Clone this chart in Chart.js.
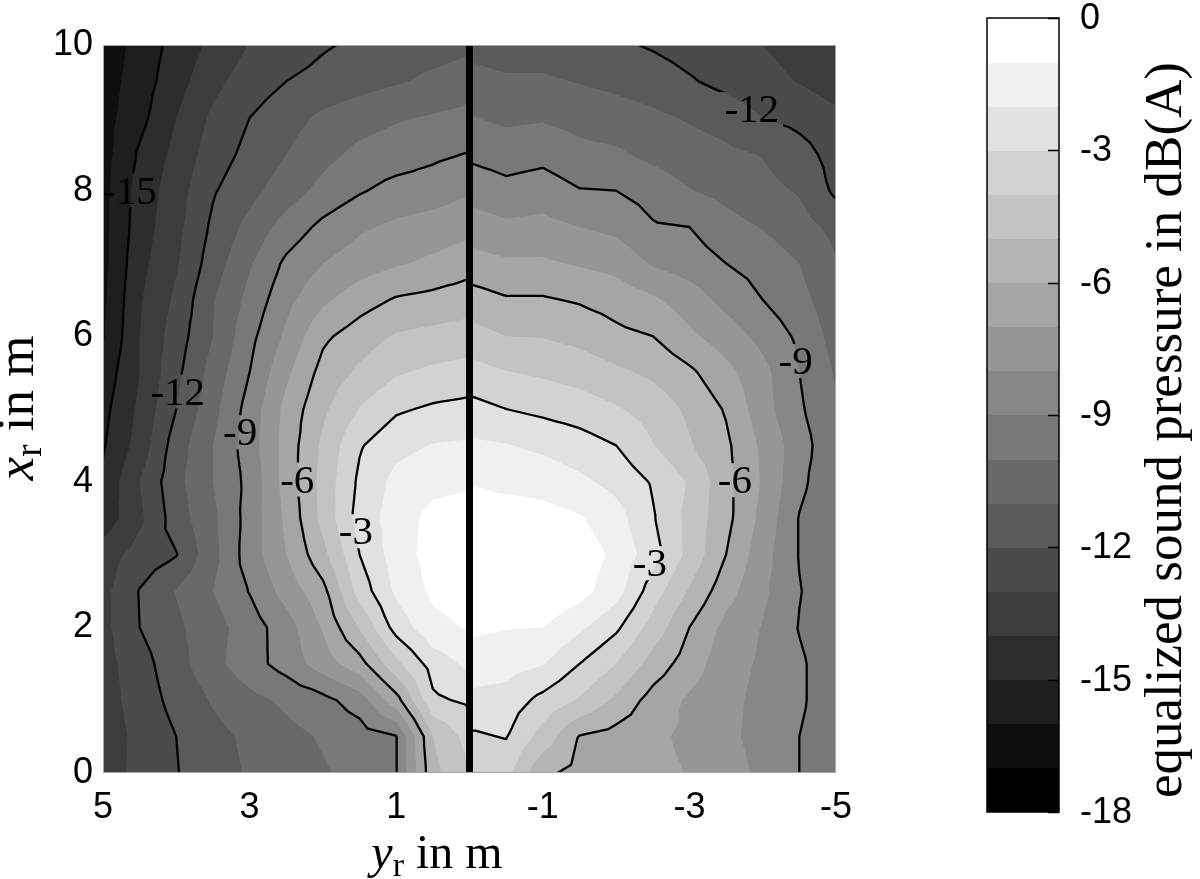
<!DOCTYPE html>
<html>
<head>
<meta charset="utf-8">
<title>Equalized sound pressure</title>
<script src="https://cdn.jsdelivr.net/npm/chart.js@4.4.1/dist/chart.umd.min.js"></script>
<style>
  html, body { margin: 0; padding: 0; background: #fff; }
  canvas { display: block; }
</style>
</head>
<body>
<canvas id="soundMap" width="1200" height="879"></canvas>
<script>
// receiver grid in m (y_r horizontal, x_r vertical), two halves split at y_r = 0
const yrLeft = [5, 4.5, 4, 3.5, 3, 2.5, 2, 1.5, 1, 0.5, 0];
const yrRight = [0, -0.5, -1, -1.5, -2, -2.5, -3, -3.5, -4, -4.5, -5];
const xrRows = [0, 0.5, 1, 1.5, 2, 2.5, 3, 3.5, 4, 4.5, 5, 5.5, 6, 6.5, 7, 7.5, 8, 8.5, 9, 9.5, 10];

// equalized sound pressure in dB(A), one row per x_r (0 .. 10 m)
const splLeft = [
  [-13.5, -12.7, -12.05, -11.4, -10.9, -10.5, -10.1, -9.7, -9.05, -5.3, -4.1],
  [-13.6, -12.7, -12.0, -11.3, -10.8, -10.3, -9.9, -9.5, -9.05, -5.0, -3.6],
  [-13.5, -12.5, -11.7, -10.9, -10.3, -9.8, -9.3, -8.5, -6.4, -3.2, -2.8],
  [-13.4, -12.4, -11.4, -10.3, -9.4, -8.6, -7.5, -6.4, -4.25, -2.55, -1.75],
  [-13.3, -12.0, -11.2, -10.4, -9.5, -8.45, -6.9, -4.9, -2.6, -1.3, -0.9],
  [-13.3, -11.95, -10.95, -10.0, -8.95, -7.6, -6.3, -3.6, -1.8, -0.8, -0.45],
  [-13.5, -12.6, -12.05, -10.3, -8.5, -7.0, -5.3, -3.0, -1.5, -0.6, -0.3],
  [-14.6, -13.2, -11.5, -10.2, -8.6, -6.8, -4.7, -2.6, -1.5, -0.7, -0.5],
  [-14.8, -13.0, -11.3, -10.0, -8.7, -6.6, -4.65, -2.8, -1.7, -1.3, -1.15],
  [-15.1, -13.6, -11.5, -10.0, -8.5, -6.6, -4.8, -3.1, -2.3, -1.95, -1.85],
  [-15.3, -13.8, -12.0, -10.3, -8.6, -6.7, -5.2, -3.95, -3.15, -2.85, -2.7],
  [-15.6, -14.0, -12.25, -10.6, -9.0, -7.2, -5.65, -4.8, -4.1, -3.8, -3.6],
  [-16.1, -14.0, -12.5, -11.0, -9.3, -7.8, -6.2, -5.5, -4.9, -4.7, -4.55],
  [-16.2, -14.1, -12.8, -11.05, -9.7, -8.3, -7.2, -6.45, -5.9, -5.7, -5.45],
  [-16.3, -14.3, -13.1, -11.5, -10.1, -8.8, -8.0, -7.5, -7.1, -6.8, -6.4],
  [-16.3, -14.5, -13.3, -11.8, -10.7, -9.6, -8.75, -8.15, -7.8, -7.55, -7.3],
  [-16.3, -14.6, -13.45, -12.1, -11.3, -10.5, -9.7, -9.1, -8.65, -8.5, -8.1],
  [-16.4, -14.85, -13.7, -12.5, -11.7, -11.0, -10.3, -9.75, -9.5, -9.2, -8.95],
  [-16.4, -15.3, -14.0, -12.8, -12.0, -11.4, -10.8, -10.4, -10.1, -9.9, -9.7],
  [-16.5, -15.5, -14.4, -13.3, -12.5, -12.0, -11.7, -11.4, -11.1, -10.8, -10.5],
  [-16.7, -15.6, -14.65, -13.75, -12.96, -12.5, -12.1, -11.83, -11.6, -11.4, -11.2]
];
const splRight = [
  [-3.8, -3.7, -5.8, -6.3, -6.5, -6.75, -7.05, -7.6, -8.2, -9.0, -9.6],
  [-3.15, -2.95, -4.4, -6.05, -6.4, -6.8, -7.2, -7.8, -8.3, -9.0, -9.6],
  [-2.25, -2.4, -3.3, -4.1, -5.2, -6.4, -7.15, -7.7, -8.3, -8.85, -9.6],
  [-1.5, -1.6, -1.95, -3.0, -4.0, -5.4, -6.5, -7.6, -8.15, -8.85, -9.6],
  [-0.8, -0.95, -1.0, -1.8, -2.8, -4.4, -6.0, -7.3, -8.05, -9.05, -9.7],
  [-0.35, -0.2, -0.2, -0.6, -1.6, -3.5, -5.1, -6.6, -7.8, -8.95, -9.7],
  [-0.3, -0.2, -0.2, -0.5, -1.2, -2.6, -4.3, -6.0, -7.6, -9.05, -9.8],
  [-0.5, -0.5, -0.6, -0.9, -1.6, -2.9, -4.3, -5.7, -7.3, -9.05, -9.9],
  [-1.05, -1.25, -1.4, -1.8, -2.3, -3.1, -4.1, -5.7, -7.1, -8.75, -9.8],
  [-1.8, -1.95, -2.2, -2.55, -3.0, -3.95, -4.9, -5.8, -7.2, -8.55, -9.8],
  [-2.65, -3.0, -3.25, -3.5, -3.9, -4.4, -5.2, -6.1, -7.6, -8.85, -9.9],
  [-3.6, -3.95, -4.15, -4.4, -4.8, -5.2, -5.8, -6.7, -7.7, -9.0, -10.1],
  [-4.6, -5.0, -5.05, -5.3, -5.75, -6.0, -6.8, -7.5, -8.3, -9.2, -10.4],
  [-5.55, -5.9, -5.9, -6.1, -6.4, -6.85, -7.5, -8.3, -9.0, -9.7, -10.6],
  [-6.6, -6.85, -6.85, -7.1, -7.35, -8.1, -8.5, -9.0, -9.4, -10.0, -10.9],
  [-7.5, -7.8, -7.7, -8.0, -8.25, -8.9, -9.0, -9.65, -10.05, -10.6, -11.3],
  [-8.35, -8.7, -8.5, -8.95, -9.0, -9.4, -9.95, -10.3, -10.7, -11.1, -12.2],
  [-9.2, -9.45, -9.3, -9.7, -9.85, -10.25, -10.55, -10.8, -11.05, -11.6, -12.4],
  [-9.95, -10.2, -10.1, -10.35, -10.55, -10.8, -11.1, -11.4, -12.0, -12.3, -12.75],
  [-10.65, -10.85, -10.85, -11.05, -11.25, -11.5, -11.9, -12.3, -12.65, -13.05, -13.5],
  [-11.3, -11.5, -11.5, -11.7, -11.85, -12.1, -12.4, -12.7, -13.0, -13.4, -13.8]
];

// filled bands (lower edge of each 1 dB band) and labelled contour lines
const fillLevels = [-18, -17, -16, -15, -14, -13, -12, -11, -10, -9, -8, -7, -6, -5, -4, -3, -2, -1];
const lineLevels = [-15, -12, -9, -6, -3];
const contourLabels = [
  { level: -15, yr: 4.64, xr: 8.0 },
  { level: -12, yr: 3.98, xr: 5.24 },
  { level: -9, yr: 3.13, xr: 4.68 },
  { level: -6, yr: 2.35, xr: 4.03 },
  { level: -3, yr: 1.55, xr: 3.32 },
  { level: -3, yr: -2.46, xr: 2.88 },
  { level: -6, yr: -3.62, xr: 4.02 },
  { level: -9, yr: -4.45, xr: 5.66 },
  { level: -12, yr: -3.85, xr: 9.12 }
];

const xTickValues = [5, 3, 1, -1, -3, -5];
const yTickValues = [0, 2, 4, 6, 8, 10];
const colorbarTicks = [0, -3, -6, -9, -12, -15, -18];

const SERIF = '"Liberation Serif", "Times New Roman", serif';
const SANS = '"Liberation Sans", Arial, sans-serif';

function bandColor(level) {
  const g = Math.round((level - fillLevels[0]) / (fillLevels.length - 1) * 255);
  return 'rgb(' + g + ',' + g + ',' + g + ')';
}

// split every grid cell into four triangles around its centre
function gridTriangles(cols, rows, values) {
  const tris = [];
  for (let j = 0; j < rows.length - 1; j++) {
    for (let i = 0; i < cols.length - 1; i++) {
      const p00 = { a: cols[i], b: rows[j], v: values[j][i] };
      const p10 = { a: cols[i + 1], b: rows[j], v: values[j][i + 1] };
      const p11 = { a: cols[i + 1], b: rows[j + 1], v: values[j + 1][i + 1] };
      const p01 = { a: cols[i], b: rows[j + 1], v: values[j + 1][i] };
      const c = {
        a: (p00.a + p11.a) / 2,
        b: (p00.b + p11.b) / 2,
        v: (p00.v + p10.v + p11.v + p01.v) / 4
      };
      tris.push([p00, p10, c], [p10, p11, c], [p11, p01, c], [p01, p00, c]);
    }
  }
  return tris;
}

// part of a triangle where value >= level
function clipAbove(poly, level) {
  const out = [];
  for (let k = 0; k < poly.length; k++) {
    const p = poly[k], q = poly[(k + 1) % poly.length];
    const pin = p.v >= level, qin = q.v >= level;
    if (pin) out.push(p);
    if (pin !== qin) {
      const t = (level - p.v) / (q.v - p.v);
      out.push({ a: p.a + t * (q.a - p.a), b: p.b + t * (q.b - p.b), v: level });
    }
  }
  return out;
}

function triSegment(tri, level) {
  const pts = [];
  for (let k = 0; k < 3; k++) {
    const p = tri[k], q = tri[(k + 1) % 3];
    if ((p.v >= level) !== (q.v >= level)) {
      const t = (level - p.v) / (q.v - p.v);
      pts.push({ a: p.a + t * (q.a - p.a), b: p.b + t * (q.b - p.b) });
    }
  }
  return pts.length === 2 ? pts : null;
}

// text made of pieces (italic symbol, subscript, plain text), centred on x
function richTitle(ctx, pieces, x, y, rotated) {
  ctx.save();
  ctx.translate(x, y);
  if (rotated) ctx.rotate(-Math.PI / 2);
  ctx.textBaseline = 'alphabetic';
  ctx.textAlign = 'left';
  let total = 0;
  pieces.forEach(p => { ctx.font = p.font; total += ctx.measureText(p.t).width; });
  let cx = -total / 2;
  pieces.forEach(p => {
    ctx.font = p.font;
    ctx.fillText(p.t, cx, p.dy || 0);
    cx += ctx.measureText(p.t).width;
  });
  ctx.restore();
}

const halves = [
  gridTriangles(yrLeft, xrRows, splLeft),
  gridTriangles(yrRight, xrRows, splRight)
];

const contourPlugin = {
  id: 'contourPlugin',
  beforeDatasetsDraw(chart) {
    const { ctx, chartArea, scales: { x, y } } = chart;
    const px = p => x.getPixelForValue(p.a);
    const py = p => y.getPixelForValue(p.b);

    ctx.save();
    ctx.beginPath();
    ctx.rect(chartArea.left, chartArea.top, chartArea.right - chartArea.left, chartArea.bottom - chartArea.top);
    ctx.clip();

    // filled bands, painted from the lowest level upwards
    halves.forEach(tris => {
      fillLevels.forEach(level => {
        ctx.beginPath();
        tris.forEach(tri => {
          const poly = clipAbove(tri, level);
          if (poly.length < 3) return;
          ctx.moveTo(px(poly[0]), py(poly[0]));
          for (let k = 1; k < poly.length; k++) ctx.lineTo(px(poly[k]), py(poly[k]));
          ctx.closePath();
        });
        ctx.fillStyle = bandColor(level);
        ctx.fill();
      });
    });

    // contour lines with gaps for the inline labels
    const labelFont = '41px ' + SERIF;
    ctx.font = labelFont;
    ctx.save();
    ctx.beginPath();
    ctx.rect(chartArea.left, chartArea.top, chartArea.right - chartArea.left, chartArea.bottom - chartArea.top);
    contourLabels.forEach(lb => {
      const w = ctx.measureText(String(lb.level)).width + 8;
      const h = 34;
      const cx = x.getPixelForValue(lb.yr), cy = y.getPixelForValue(lb.xr);
      ctx.rect(cx - w / 2, cy - h / 2, w, h);
    });
    ctx.clip('evenodd');
    ctx.strokeStyle = '#000';
    ctx.lineWidth = 2.3;
    ctx.lineCap = 'round';
    ctx.lineJoin = 'round';
    halves.forEach(tris => {
      lineLevels.forEach(level => {
        ctx.beginPath();
        tris.forEach(tri => {
          const seg = triSegment(tri, level);
          if (!seg) return;
          ctx.moveTo(px(seg[0]), py(seg[0]));
          ctx.lineTo(px(seg[1]), py(seg[1]));
        });
        ctx.stroke();
      });
    });
    ctx.restore();

    ctx.fillStyle = '#000';
    contourLabels.forEach(lb => {
      const cx = x.getPixelForValue(lb.yr), cy = y.getPixelForValue(lb.xr);
      richTitle(ctx, [{ t: String(lb.level), font: labelFont }], cx, cy + 13, false);
    });
    ctx.restore();
  },
  afterDatasetsDraw(chart) {
    const { ctx, chartArea } = chart;
    ctx.save();
    ctx.strokeStyle = '#a8a8a8';
    ctx.lineWidth = 1;
    ctx.strokeRect(chartArea.left + 0.5, chartArea.top + 0.5,
      chartArea.right - chartArea.left - 1, chartArea.bottom - chartArea.top - 1);
    ctx.restore();
  },
  afterDraw(chart) {
    const { ctx } = chart;
    ctx.save();
    ctx.fillStyle = '#000';

    // axis titles
    richTitle(ctx, [
      { t: 'y', font: 'italic 48px ' + SERIF },
      { t: 'r', font: '34px ' + SERIF, dy: 8 },
      { t: ' in m', font: '48px ' + SERIF }
    ], 437, 868, false);
    richTitle(ctx, [
      { t: 'x', font: 'italic 53px ' + SERIF },
      { t: 'r', font: '37px ' + SERIF, dy: 8 },
      { t: ' in m', font: '53px ' + SERIF }
    ], 33, 408, true);

    // colour bar
    const cb = { left: 987, right: 1059, top: 18, bottom: 812 };
    const vMax = colorbarTicks[0], vMin = colorbarTicks[colorbarTicks.length - 1];
    const vy = v => cb.top + (vMax - v) / (vMax - vMin) * (cb.bottom - cb.top);
    fillLevels.forEach(level => {
      const y1 = Math.floor(vy(level + 1)), y2 = Math.ceil(vy(level));
      ctx.fillStyle = bandColor(level);
      ctx.fillRect(cb.left, y1, cb.right - cb.left, y2 - y1);
    });
    ctx.strokeStyle = '#000';
    ctx.lineWidth = 1.5;
    ctx.strokeRect(cb.left, cb.top, cb.right - cb.left, cb.bottom - cb.top);
    ctx.beginPath();
    colorbarTicks.forEach(v => {
      const ty = Math.round(vy(v)) + 0.5;
      ctx.moveTo(cb.right - 11, ty);
      ctx.lineTo(cb.right, ty);
    });
    ctx.stroke();
    ctx.fillStyle = '#000';
    ctx.font = '36px ' + SANS;
    ctx.textAlign = 'left';
    ctx.textBaseline = 'middle';
    colorbarTicks.forEach(v => {
      ctx.fillText(String(v), 1080, vy(v) + 1);
    });

    // colour bar label
    richTitle(ctx, [{ t: 'equalized sound pressure in dB(A)', font: '53px ' + SERIF }], 1181, 430, true);

    ctx.restore();
  }
};

const dividerYr = yrLeft[yrLeft.length - 1];

new Chart(document.getElementById('soundMap').getContext('2d'), {
  type: 'scatter',
  data: {
    datasets: [{
      data: [
        { x: dividerYr, y: xrRows[0] },
        { x: dividerYr, y: xrRows[xrRows.length - 1] }
      ],
      showLine: true,
      borderColor: '#000',
      borderWidth: 7,
      borderCapStyle: 'butt',
      pointRadius: 0
    }]
  },
  options: {
    responsive: false,
    animation: false,
    events: [],
    layout: { padding: { left: 0, right: 364, top: 45, bottom: 0 } },
    plugins: { legend: { display: false }, tooltip: { enabled: false } },
    scales: {
      x: {
        type: 'linear',
        reverse: true,
        min: -5,
        max: 5,
        grid: { display: false, drawTicks: false },
        border: { display: false },
        ticks: { font: { family: SANS, size: 36 }, color: '#000', padding: 13 },
        afterBuildTicks: scale => { scale.ticks = xTickValues.map(v => ({ value: v })); },
        afterFit: scale => { scale.height = 106; }
      },
      y: {
        type: 'linear',
        min: 0,
        max: 10,
        grid: { display: false, drawTicks: false },
        border: { display: false },
        ticks: { font: { family: SANS, size: 36 }, color: '#000', padding: 10 },
        afterBuildTicks: scale => { scale.ticks = yTickValues.map(v => ({ value: v })); },
        afterFit: scale => { scale.width = 103; }
      }
    }
  },
  plugins: [contourPlugin]
});
</script>
</body>
</html>
